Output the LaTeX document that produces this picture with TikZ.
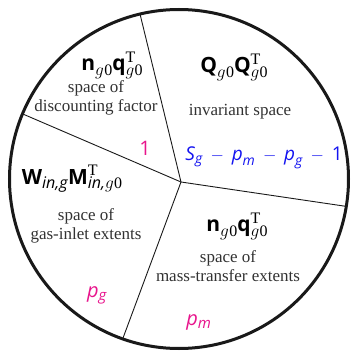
\documentclass[tikz,border=0pt]{standalone}
\usepackage{amsmath}
\usepackage{fontspec}
\setmainfont{Liberation Serif}
\setsansfont{Open Sans}
\usetikzlibrary{calc}
\DeclareMathSizes{19}{19}{14}{10}
\DeclareMathSizes{20}{20}{15}{11}
\definecolor{mag}{RGB}{232,20,140}
\definecolor{blu}{RGB}{20,20,240}
\definecolor{txt}{RGB}{50,50,50}
\newcommand{\bs}[1]{\textsf{\bfseries #1}}
\newcommand{\si}[1]{\textsf{\itshape #1}}
\newcommand{\mn}{\mkern4mu-\mkern4mu}
\newcommand{\smallfnt}{\fontsize{16}{16}\selectfont}
\newcommand{\lo}[1]{\raisebox{-4.5pt}{\smallfnt #1}}
\newcommand{\losup}[2]{\makebox[0pt][l]{\raisebox{8.5pt}{\smallfnt #1}}\raisebox{-4.5pt}{\smallfnt #2}}
\newcommand{\gz}{$g$\kern0.3pt0}
\begin{document}
\begin{tikzpicture}[x=1pt,y=-1pt,
  lbl/.style={font=\fontsize{17}{19.5}\selectfont, text=txt, align=center, inner sep=0pt},
  frm/.style={font=\fontsize{21}{23}\selectfont, text=black, inner sep=0pt},
  num/.style={font=\fontsize{20}{22}\selectfont\sffamily, inner sep=0pt},
  bnum/.style={font=\fontsize{19}{22}\selectfont\sffamily, inner sep=0pt},
  rim/.style={line width=3pt, draw=black!90},
  divider/.style={line width=0.9pt, draw=black!90}]
\useasboundingbox (0,0) rectangle (354,353);
\coordinate (C) at (179,179);
\coordinate (J) at (181,182);
\coordinate (Pup) at ($(C)+(103.3:169.5pt)$);
\coordinate (Pleft) at ($(C)+(157.4:169.5pt)$);
\coordinate (Pright) at ($(C)+(-9.3:169.5pt)$);
\coordinate (Pdown) at ($(C)+(250.6:169.5pt)$);
\draw[divider] (J) -- (Pup);
\draw[divider] (J) -- (Pleft);
\draw[divider] (J) -- (Pright);
\draw[divider] (J) -- (Pdown);
\draw[rim] (C) circle (169.5pt);
% top-left
\node[frm] (f1) at (112,65) {\bs{n}\lo{\gz}\bs{q}\losup{T}{\gz}};
\node[lbl] (t1) at (96,98) {space of\\discounting factor};
\node[num, text=mag] (n1) at (145,148) {1};
% top-right
\node[frm] (f2) at (234,67) {\bs{Q}\lo{\gz}\bs{Q}\losup{T}{\gz}};
\node[lbl] (t2) at (240,112) {invariant space};
\node[bnum, text=blu] (n2) at (264,158) {\si{S}$_{\si{g}}\mn\si{p}_{\si{m}}\mn\si{p}_{\si{g}}\mn\textsf{1}$};
% left
\node[frm] (f3) at (72,179) {\bs{W}\lo{\si{in,g}}\bs{M}\losup{T}{\si{in,}\gz}};
\node[lbl] (t3) at (86,226) {space of\\gas-inlet extents};
\node[num, text=mag] (n3) at (97,295) {\si{p}$_{\si{g}}$};
% bottom-right
\node[frm] (f4) at (237,226) {\bs{n}\lo{\gz}\bs{q}\losup{T}{\gz}};
\node[lbl] (t4) at (228,266) {space of\\mass-transfer extents};
\node[num, text=mag] (n4) at (199,322) {\si{p}$_{\si{m}}$};
\end{tikzpicture}
\end{document}
